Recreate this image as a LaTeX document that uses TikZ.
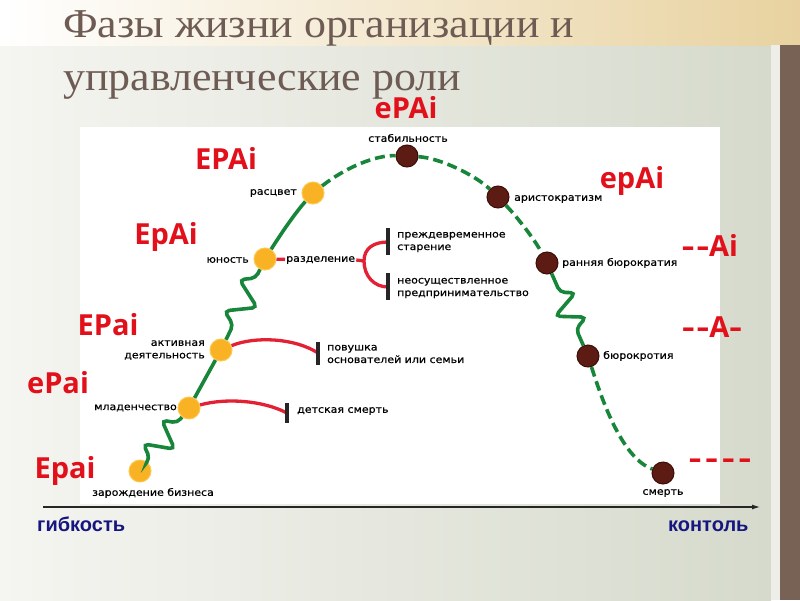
\documentclass[tikz,border=0pt]{standalone}
\usepackage{fontspec}
\usepackage{graphicx}
\setmainfont{Liberation Serif}
\newfontfamily\titlefont[FakeStretch=1.07]{Liberation Serif}
\newfontfamily\lblfont[FakeStretch=1.1,FakeBold=0.5]{DejaVu Sans}
\newfontfamily\redfont{Open Sans}
\newfontfamily\axfont{Liberation Sans}
\usetikzlibrary{calc,arrows.meta}
\definecolor{titlec}{RGB}{110,92,84}
\definecolor{bgl}{RGB}{245,245,241}
\definecolor{bgr}{RGB}{214,218,204}
\definecolor{tanc}{RGB}{232,210,160}
\definecolor{tanm}{RGB}{246,238,222}
\definecolor{stripc}{RGB}{238,238,233}
\definecolor{brownbar}{RGB}{120,98,86}
\definecolor{ycol}{RGB}{248,178,36}
\definecolor{yedge}{RGB}{252,200,80}
\definecolor{bcol}{RGB}{92,28,20}
\definecolor{bedge}{RGB}{60,14,8}
\definecolor{gcol}{RGB}{24,134,58}
\definecolor{rcol}{RGB}{226,34,52}
\definecolor{redc}{RGB}{226,16,26}
\definecolor{navy}{RGB}{22,22,128}
\newcommand\hy{\scalebox{1.35}[1]{-}}
% spring-shaped connector: #1 from node, #2 to node, #3 start distance, #4 end distance
\newcommand\springline[4]{%
  \path ($(#1)!#3!(#2)$) coordinate (sA) ($(#1)!#4!(#2)$) coordinate (sB);
  \draw[gline, rounded corners=5pt] (#1) -- (sA)
    -- ($(sA)!0.1667!(sB)!14pt!90:(sB)$)
    -- ($(sA)!0.5!(sB)!14pt!-90:(sB)$)
    -- ($(sA)!0.8333!(sB)!14pt!90:(sB)$)
    -- (sB) -- (#2);
}
\begin{document}
\begin{tikzpicture}[x=1pt,y=-1pt,
  ynode/.style={circle, fill=ycol, draw=yedge, line width=1pt, minimum size=22pt, inner sep=0pt},
  bnode/.style={circle, fill=bcol, draw=bedge, line width=1pt, minimum size=22pt, inner sep=0pt},
  lbl/.style={font=\lblfont\fontsize{10}{12.5}\selectfont, inner sep=1pt},
  rl/.style={font=\redfont\bfseries\fontsize{29}{29}\selectfont, text=redc, inner sep=0pt, anchor=base},
  axl/.style={font=\axfont\bfseries\fontsize{20}{20}\selectfont, text=navy, inner sep=0pt, anchor=base west},
  gline/.style={draw=gcol, line width=3.6pt},
  gdash/.style={gline, dash pattern=on 10pt off 5pt},
  rline/.style={draw=rcol, line width=3.3pt},
  barline/.style={draw=black!85, line width=3.5pt}
]
\useasboundingbox (0,0) rectangle (800,600);
% background
\shade[left color=bgl, right color=bgr] (0,45) rectangle (771,600);
\shade[left color=white, middle color=tanm, right color=tanc] (0,0) rectangle (800,45);
\fill[stripc] (771,45) rectangle (780,600);
\fill[brownbar] (780,45) rectangle (800,600);
\fill[white] (80,127) rectangle (720,504);
% title
\node[anchor=base west, inner sep=0, text=titlec, font=\titlefont\fontsize{41}{41}\selectfont] (t1) at (63,37) {Фазы жизни организации и};
\node[anchor=base west, inner sep=0, text depth=0pt, text=titlec, font=\titlefont\fontsize{41}{41}\selectfont] (t2) at (63,90) {управленческие роли};
% axis
\coordinate (axL) at (43,507);
\coordinate (axR) at (760,507);
\draw[line width=1.1pt, black!85, -{Latex[length=8pt,width=5pt]}] (axL) -- (axR);
\node[axl] (flex) at (37,531) {гибкость};
\node[axl] (ctrl) at (668,531) {контоль};
% phase nodes
\node[ynode] (zar) at (140,471) {};
\node[ynode] (mlad) at (189,408) {};
\node[ynode] (akt) at (221,350) {};
\node[ynode] (jun) at (265,259) {};
\node[ynode] (ras) at (313,193) {};
\node[bnode] (stab) at (407,156) {};
\node[bnode] (aris) at (498,197) {};
\node[bnode] (rb) at (547,263) {};
\node[bnode] (bur) at (588,356) {};
\node[bnode] (smert) at (663,473) {};
% green life curve
\springline{zar}{mlad}{16pt}{61pt}
\draw[gline] (mlad) -- (akt);
\springline{akt}{jun}{28pt}{80pt}
\draw[gline] (jun) .. controls (282,232) and (296,212) .. (ras);
\draw[gdash] (ras) .. controls (345,168) and (375,155) .. (stab);
\draw[gdash] (stab) .. controls (440,158) and (475,175) .. (aris);
\draw[gdash] (aris) .. controls (518,218) and (535,240) .. (rb);
\springline{rb}{bur}{32pt}{72pt}
\draw[gdash] (bur) .. controls (602,400) and (622,458) .. (smert);
% labels of phases
\node[lbl] (lstab) at (408,138) {стабильность};
\node[lbl, anchor=east] (lras) at (298,193) {расцвет};
\node[lbl, anchor=east] (ljun) at (250,260) {юность};
\node[lbl, anchor=west] (lrazd) at (285,260) {разделение};
\node[lbl, anchor=east, align=right] (lakt) at (206,350) {активная\\деятельность};
\node[lbl, anchor=east] (lmlad) at (178,408) {младенчество};
\node[lbl] (lzar) at (153,493) {зарождение бизнеса};
\node[lbl, anchor=west] (ldet) at (296,411) {детская смерть};
\node[lbl, anchor=west, align=left] (lpov) at (326,354) {повушка\\основателей или семьи};
\node[lbl, anchor=west, align=left] (lpre) at (396,242) {преждевременное\\старение};
\node[lbl, anchor=west, align=left] (lneo) at (396,288) {неосуществленное\\предпринимательство};
\node[lbl, anchor=west] (laris) at (513,199) {аристократизм};
\node[lbl, anchor=west] (lrb) at (561,263) {ранняя бюрократия};
\node[lbl, anchor=west] (lbur) at (602,356) {бюрокротия};
\node[lbl] (lsm) at (663,493) {смерть};
% red branches and bars
\coordinate (fork) at (364,261);
\coordinate (b1t) at (388,228);
\coordinate (b1b) at (388,255);
\coordinate (b1m) at (388,242);
\coordinate (b2t) at (388,273);
\coordinate (b2b) at (388,300);
\coordinate (b2m) at (388,287);
\coordinate (b3t) at (318,342);
\coordinate (b3b) at (318,365);
\coordinate (b3m) at (318,353);
\coordinate (b4t) at (287,403);
\coordinate (b4b) at (287,423);
\coordinate (b4m) at (287,413);
\draw[rline] (jun) -- (lrazd);
\draw[rline] (lrazd.east) -- (fork);
\draw[rline] (fork) .. controls (364,248) and (374,242) .. (b1m);
\draw[rline] (fork) .. controls (364,276) and (374,287) .. (b2m);
\draw[rline] (akt) .. controls (255,336) and (295,338) .. (b3m);
\draw[rline] (mlad) .. controls (225,398) and (262,400) .. (b4m);
\draw[barline] (b1t) -- (b1b);
\draw[barline] (b2t) -- (b2b);
\draw[barline] (b3t) -- (b3b);
\draw[barline] (b4t) -- (b4b);
% role codes
\node[rl] (r1) at (406,118) {ePAi};
\node[rl] (r2) at (226,169) {EPAi};
\node[rl] (r3) at (166,244) {EpAi};
\node[rl] (r4) at (108,335) {EPai};
\node[rl] (r5) at (58,393) {ePai};
\node[rl] (r6) at (65,478) {Epai};
\node[rl] (r7) at (632,188) {epAi};
\node[rl] (r8) at (710,256) {\hy\kern2pt\hy Ai};
\node[rl] (r9) at (712,337) {\hy\kern2pt\hy A\hy};
\node[rl] (r10) at (720,468) {\hy\kern4pt\hy\kern4pt\hy\kern4pt\hy};
\end{tikzpicture}
\end{document}
